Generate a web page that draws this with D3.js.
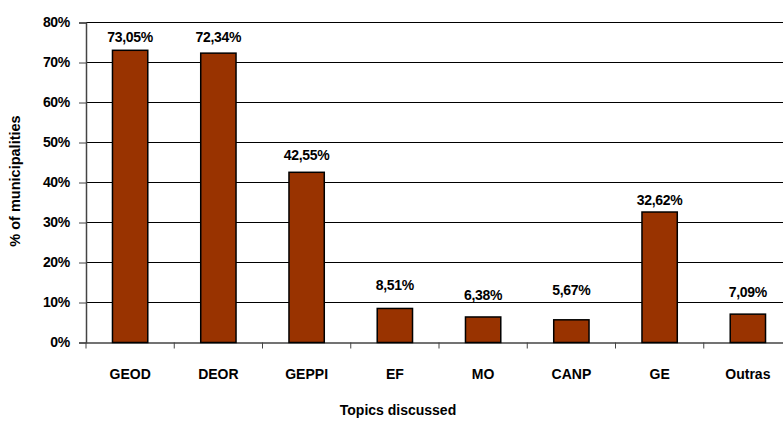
<!DOCTYPE html>
<html><head><meta charset="utf-8">
<script src="https://cdn.jsdelivr.net/npm/d3@7"></script>
<style>body{margin:0;background:#fff}svg{display:block}text{font-family:"Liberation Sans",Arial,sans-serif;font-weight:bold}</style>
</head><body>
<svg id="c" width="783" height="421"></svg>
<script>
const categories = ["GEOD","DEOR","GEPPI","EF","MO","CANP","GE","Outras"];
const values = [73.05,72.34,42.55,8.51,6.38,5.67,32.62,7.09];
const valueLabels = ["73,05%","72,34%","42,55%","8,51%","6,38%","5,67%","32,62%","7,09%"];
const yTicks = [0,10,20,30,40,50,60,70,80];

(function(){
const svg = d3.select("#c");
const pL = 86, pR = 792, pT = 22.5, pB = 342.5;
const FF = '"Liberation Sans",Arial,sans-serif';
// gap (px) between each bar top and its value label baseline, as placed in the original
const labelGap = [8, 11.5, 12, 18.5, 17, 24.5, 7, 17.5];
const x = d3.scaleBand().domain(categories).range([pL, pR]).paddingInner(0.6).paddingOuter(0.3);
const xb = d3.scaleBand().domain(categories).range([pL, pR]);
const y = d3.scaleLinear().domain([0, 80]).range([pB, pT]);

svg.append("g").selectAll("line").data(yTicks.filter(d=>d>0)).join("line")
  .attr("x1", pL).attr("x2", 783).attr("y1", d=>y(d)).attr("y2", d=>y(d))
  .attr("stroke", "#000").attr("stroke-width", 1);

const ya = svg.append("g").attr("transform", `translate(${pL},0)`)
  .call(d3.axisLeft(y).tickValues(yTicks).tickFormat(d=>d+"%").tickSize(7).tickPadding(9));
ya.select(".domain").attr("stroke", "#444").attr("stroke-width", 1.5);
ya.selectAll(".tick line").attr("stroke", "#444");
ya.selectAll("text").attr("font-size", 14).attr("fill", "#000").attr("letter-spacing", -0.3)
  .style("font-family", FF).style("font-weight", "bold");

const xa = svg.append("g").attr("transform", `translate(0,${pB})`)
  .call(d3.axisBottom(xb).tickSize(0).tickPadding(27));
xa.select(".domain").attr("stroke", "#444").attr("stroke-width", 1.5);
xa.selectAll("text").attr("font-size", 14).attr("fill", "#000")
  .style("font-family", FF).style("font-weight", "bold");
svg.append("g").selectAll("line").data(categories).join("line")
  .attr("x1", d=>xb(d)).attr("x2", d=>xb(d)).attr("y1", pB).attr("y2", pB+6)
  .attr("stroke", "#444").attr("stroke-width", 1);

svg.append("g").selectAll("rect").data(categories).join("rect")
  .attr("x", d=>x(d)).attr("width", x.bandwidth())
  .attr("y", (d,i)=>y(values[i])).attr("height", (d,i)=>pB - y(values[i]))
  .attr("fill", "#993300").attr("stroke", "#000").attr("stroke-width", 1.5);

svg.append("g").selectAll("text").data(categories).join("text")
  .attr("x", d=>x(d) + x.bandwidth()/2).attr("y", (d,i)=>y(values[i]) - labelGap[i])
  .attr("text-anchor", "middle").attr("font-size", 14).attr("letter-spacing", -0.3)
  .text((d,i)=>valueLabels[i]);

svg.append("text").attr("x", 398).attr("y", 415).attr("text-anchor", "middle")
  .attr("font-size", 14).text("Topics discussed");
svg.append("text").attr("transform", "translate(20,181) rotate(-90)").attr("text-anchor", "middle")
  .attr("font-size", 14.5).text("% of municipalities");
})();
</script>
</body></html>
